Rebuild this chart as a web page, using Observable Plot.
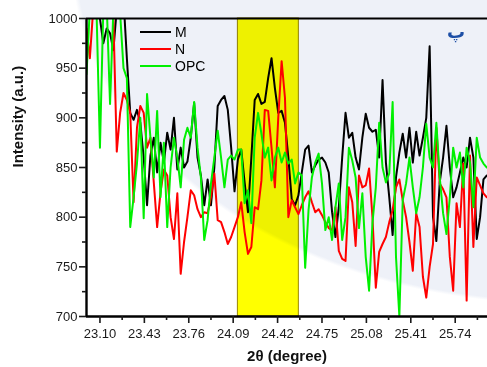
<!DOCTYPE html>
<html><head><meta charset="utf-8">
<script src="https://cdn.jsdelivr.net/npm/d3@7"></script>
<script src="https://cdn.jsdelivr.net/npm/@observablehq/plot@0.6"></script>
<style>
html,body{margin:0;padding:0;background:#fff;}
#wrap{position:relative;width:487px;height:367px;overflow:hidden;
  background: radial-gradient(ellipse 488px 344px at 560px -40px, #eef1f8 99%, #ffffff 100%);
  font-family:"Liberation Sans", Arial, sans-serif;}
#legend{position:absolute;left:140px;top:23px;font-size:14px;color:#000;}
#legend .row{display:flex;align-items:center;height:17px;}
#legend .sw{width:31px;height:2px;margin-right:4px;}
#mark{position:absolute;left:447px;top:21px;font-family:"DejaVu Sans",sans-serif;font-weight:bold;font-size:18px;color:#1d4fa6;}
</style></head>
<body>
<div id="wrap"><div id="chart"></div><div id="legend"></div><div id="mark">پ</div></div>
<script>
// scan: 2θ from 23.00 in steps of 0.025 degree
const scanStart = 23.00;
const scanStep = 0.025;
const seriesNames = ["M", "N", "OPC"];
const seriesColors = ["#000000", "#ff0000", "#00f000"];
const M = [1040,1030,1020,1010,1000,975,990,985,968,1010,1030,1020,960,905,898,908,895,860,812,862,
 880,845,875,855,885,868,900,848,870,850,856,880,915,860,842,812,838,812,850,912,
 918,922,908,870,826,858,868,835,805,860,918,924,914,916,940,960,930,905,907,895,
 860,818,812,822,845,868,872,845,852,858,860,855,845,805,780,810,860,905,880,885,
 860,848,880,904,890,886,888,860,938,855,820,782,840,865,884,860,890,855,886,862,
 880,900,972,800,776,835,860,892,850,820,830,845,860,850,880,860,778,800,838,842];
const N = [990,960,1010,1020,1005,1020,1010,1015,1000,866,905,925,918,905,815,890,912,905,870,880,
 835,790,825,848,842,800,778,824,743,775,800,827,822,808,800,805,804,820,844,797,
 795,785,773,780,790,800,815,785,763,770,810,808,837,908,907,870,830,900,957,920,
 800,817,810,803,812,820,826,815,805,808,802,795,789,787,810,766,758,756,830,815,
 771,842,830,832,849,800,729,765,773,780,795,807,830,838,817,800,775,746,804,790,
 740,719,750,773,890,834,828,820,760,726,814,790,854,716,862,770,840,832,824,820];
const OPC = [944,1010,1020,1005,870,1010,1015,914,1010,1020,1005,950,940,790,820,854,900,799,924,880,
 840,907,820,875,790,850,880,860,830,878,890,880,916,870,840,777,797,834,860,887,
 860,830,858,862,858,868,868,814,827,794,880,905,884,860,870,837,860,870,855,865,
 854,858,834,845,842,749,807,840,855,864,834,787,800,777,810,834,777,800,870,857,
 840,789,824,760,726,794,830,895,850,835,844,916,760,700,817,834,860,830,804,820,
 850,894,860,850,895,840,804,783,820,870,850,865,830,870,855,810,880,860,854,850];
const bandStart = [24.125];
const bandEnd = [24.578];
const xDomain = [23.0, 25.98];
const yDomain = [700, 1000];
const xMajor = [23.10, 23.43, 23.76, 24.09, 24.42, 24.75, 25.08, 25.41, 25.74];
const xMinor = [23.265, 23.595, 23.925, 24.255, 24.585, 24.915, 25.245, 25.575, 25.905];
const yMajor = [700, 750, 800, 850, 900, 950, 1000];
const yMinor = [725, 775, 825, 875, 925, 975];

const toRows = vals => vals.map((v, i) => ({x: scanStart + i * scanStep, y: v}));
const seriesData = [M, N, OPC].map(toRows);
const band = bandStart.map((s, i) => ({start: s, end: bandEnd[i]}));

const chart = Plot.plot({
  width: 487, height: 367,
  marginTop: 18, marginBottom: 51, marginLeft: 86, marginRight: 0,
  style: {background: "transparent", fontFamily: "'Liberation Sans', Arial, sans-serif", fontSize: "13px", color: "#1a1a1a", overflow: "visible"},
  x: {domain: xDomain},
  y: {domain: yDomain},
  marks: [
    Plot.rect(band, {x1: "start", x2: "end", y1: yDomain[0], y2: yDomain[1], fill: "#ffff00", stroke: "#9a8600", strokeWidth: 1, mixBlendMode: "multiply"}),
    ...seriesData.map((d, k) => Plot.line(d, {x: "x", y: "y", stroke: seriesColors[k], strokeWidth: 2, clip: true})),
    Plot.ruleY([yDomain[1]], {stroke: "#000", strokeWidth: 2.2}),
    Plot.ruleY([yDomain[0]], {stroke: "#000", strokeWidth: 2.4}),
    Plot.ruleX([xDomain[0]], {stroke: "#000", strokeWidth: 2.4}),
    Plot.axisX(xMajor, {tickSize: 7, tickPadding: 5, tickFormat: d => d.toFixed(2), strokeWidth: 1.6, label: null, fontSize: 13}),
    Plot.axisX(xMinor, {tickSize: 4, tickFormat: () => "", strokeWidth: 1.6, label: null}),
    Plot.axisY(yMajor, {tickSize: 7, tickPadding: 2, tickFormat: d => String(d), strokeWidth: 1.6, label: null, fontSize: 13}),
    Plot.axisY(yMinor, {tickSize: 4, tickFormat: () => "", strokeWidth: 1.6, label: null}),
    Plot.text(["2θ (degree)"], {frameAnchor: "bottom", dy: 44, fontWeight: "bold", fontSize: 15, fill: "#111"}),
    Plot.text(["Intensity (a.u.)"], {frameAnchor: "left", dx: -68, rotate: -90, fontWeight: "bold", fontSize: 15, fill: "#111"})
  ]
});
document.getElementById("chart").appendChild(chart);

const legend = document.getElementById("legend");
seriesNames.forEach((name, k) => {
  const row = document.createElement("div");
  row.className = "row";
  row.innerHTML = `<span class="sw" style="background:${seriesColors[k]}"></span><span>${name}</span>`;
  legend.appendChild(row);
});
</script>
</body></html>
